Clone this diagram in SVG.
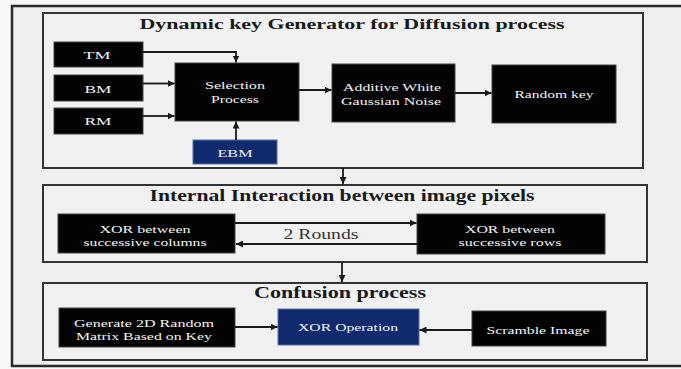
<svg xmlns="http://www.w3.org/2000/svg" width="681" height="369" viewBox="0 0 681 369">
<defs>
<marker id="ah" markerUnits="userSpaceOnUse" markerWidth="8" markerHeight="7" refX="7" refY="3.5" orient="auto">
<path d="M0,0 L7,3.5 L0,7 Z" fill="#1a1a1a"/>
</marker>
</defs>
<style>
.panel{fill:#f1f1f1;stroke:#333;stroke-width:2}
.blk{fill:#030303;stroke:#444;stroke-width:1}
.navy{fill:#0f2b6e;stroke:#5a6f9e;stroke-width:1}
.bt{font-family:"Liberation Serif","Times New Roman",serif;font-size:10.5px;fill:#f4f4f4;text-anchor:middle}
.tt{font-family:"Liberation Serif","Times New Roman",serif;font-weight:bold;fill:#1a1a1a;text-anchor:middle}
.con{fill:none;stroke:#1a1a1a;stroke-width:1.8;marker-end:url(#ah)}
</style>
<rect x="0" y="0" width="681" height="369" fill="#f8f8f8"/>
<rect x="12" y="6" width="669" height="360" fill="#efefef"/>
<path d="M681,6 H12 V366 H681" fill="none" stroke="#2a2a2a" stroke-width="2.5"/>

<g id="panel-diffusion-key">
<rect class="panel" x="43" y="13" width="600" height="155"/>
<text class="tt" x="352" y="28.5" font-size="15" textLength="425" lengthAdjust="spacingAndGlyphs">Dynamic key Generator for Diffusion process</text>
</g>
<g id="panel-internal">
<rect class="panel" x="43" y="185" width="604" height="77"/>
<text class="tt" x="342" y="201" font-size="16" textLength="385" lengthAdjust="spacingAndGlyphs">Internal Interaction between image pixels</text>
</g>
<g id="panel-confusion">
<rect class="panel" x="43" y="283" width="604" height="77"/>
<text class="tt" x="340" y="298" font-size="16" textLength="172" lengthAdjust="spacingAndGlyphs">Confusion process</text>
</g>

<g id="tm"><rect class="blk" x="54" y="42" width="89" height="25"/><text class="bt" x="97" y="59" textLength="27" lengthAdjust="spacingAndGlyphs">TM</text></g>
<g id="bm"><rect class="blk" x="54" y="75" width="89" height="26"/><text class="bt" x="98" y="92.5" textLength="27" lengthAdjust="spacingAndGlyphs">BM</text></g>
<g id="rm"><rect class="blk" x="54" y="108" width="89" height="26"/><text class="bt" x="98" y="125" textLength="27" lengthAdjust="spacingAndGlyphs">RM</text></g>
<g id="selection"><rect class="blk" x="175" y="63" width="124" height="58"/>
<text class="bt" x="235" y="88.5" textLength="60" lengthAdjust="spacingAndGlyphs">Selection</text>
<text class="bt" x="235" y="103" textLength="48" lengthAdjust="spacingAndGlyphs">Process</text></g>
<g id="ebm"><rect class="navy" x="193" y="140" width="84" height="24"/><text class="bt" x="235" y="156.5" textLength="35" lengthAdjust="spacingAndGlyphs">EBM</text></g>
<g id="awgn"><rect class="blk" x="332" y="64" width="123" height="58"/>
<text class="bt" x="392" y="90.5" textLength="98" lengthAdjust="spacingAndGlyphs">Additive White</text>
<text class="bt" x="391" y="104.5" textLength="100" lengthAdjust="spacingAndGlyphs">Gaussian Noise</text></g>
<g id="random-key"><rect class="blk" x="492" y="65" width="124" height="58"/><text class="bt" x="554" y="98" textLength="79" lengthAdjust="spacingAndGlyphs">Random key</text></g>

<g id="xor-cols"><rect class="blk" x="58" y="214" width="177" height="39"/>
<text class="bt" x="145" y="232.5" textLength="91" lengthAdjust="spacingAndGlyphs">XOR between</text>
<text class="bt" x="145" y="245.5" textLength="123" lengthAdjust="spacingAndGlyphs">successive columns</text></g>
<g id="xor-rows"><rect class="blk" x="417" y="214" width="188" height="40"/>
<text class="bt" x="510" y="232.5" textLength="90" lengthAdjust="spacingAndGlyphs">XOR between</text>
<text class="bt" x="510" y="245.5" textLength="103" lengthAdjust="spacingAndGlyphs">successive rows</text></g>

<g id="generate"><rect class="blk" x="59" y="308" width="176" height="39"/>
<text class="bt" x="144" y="326.5" textLength="140" lengthAdjust="spacingAndGlyphs">Generate 2D Random</text>
<text class="bt" x="144" y="339.5" textLength="136" lengthAdjust="spacingAndGlyphs">Matrix Based on Key</text></g>
<g id="xor-op"><rect class="navy" x="278" y="309" width="141" height="36"/><text class="bt" x="348" y="330.5" textLength="100" lengthAdjust="spacingAndGlyphs">XOR Operation</text></g>
<g id="scramble"><rect class="blk" x="472" y="311" width="134" height="35"/><text class="bt" x="538" y="333.5" textLength="103" lengthAdjust="spacingAndGlyphs">Scramble Image</text></g>

<g id="connectors">
<path class="con" d="M143,52 H236 V62.5"/>
<path class="con" d="M143,83.5 H174.5"/>
<path class="con" d="M143,116 H174.5"/>
<path class="con" d="M236,140 V121.5"/>
<path class="con" d="M299,90 H331.5"/>
<path class="con" d="M455,93 H491.5"/>
<path class="con" d="M343,168 V184"/>
<path class="con" d="M235,223 H416.5"/>
<path class="con" d="M417,244 H236"/>
<text x="321" y="239" font-family="Liberation Serif, Times New Roman, serif" font-size="14" fill="#333" text-anchor="middle" textLength="75" lengthAdjust="spacingAndGlyphs">2 Rounds</text>
<path class="con" d="M342,262 V282"/>
<path class="con" d="M235,327 H277.5"/>
<path class="con" d="M472,330 H419.5"/>
</g>
</svg>
